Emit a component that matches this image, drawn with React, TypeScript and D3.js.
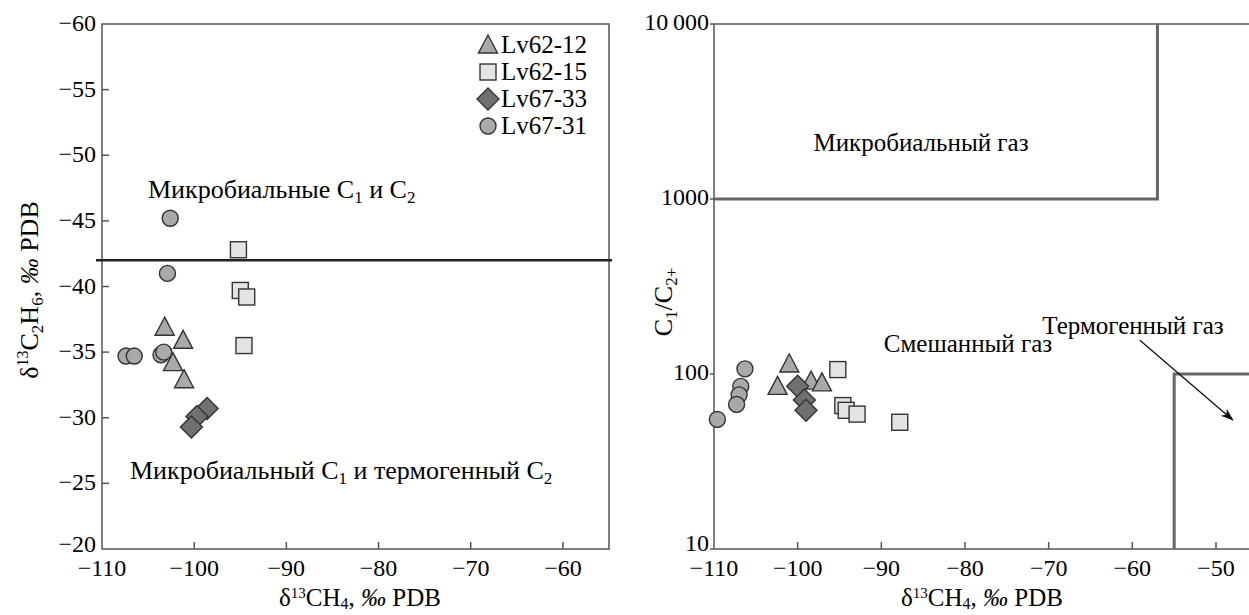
import * as d3 from 'd3';

// Left panel data: d13CH4 (x) vs d13C2H6 (y)
const lv6212L = [[-103.2, -36.9], [-101.2, -35.9], [-102.3, -34.2], [-101.1, -32.9]];
const lv6215L = [[-95.2, -42.8], [-95.0, -39.7], [-94.3, -39.2], [-94.6, -35.5]];
const lv6733L = [[-98.6, -30.7], [-99.7, -30.1], [-100.3, -29.3]];
const lv6731L = [[-102.6, -45.2], [-102.9, -41.0], [-107.4, -34.7], [-106.5, -34.7], [-103.6, -34.8], [-103.3, -35.0]];

// Right panel data: d13CH4 (x) vs C1/C2+ (y)
const lv6212R = [[-101.0, 114], [-102.4, 85], [-98.4, 91], [-97.1, 89]];
const lv6215R = [[-95.2, 106], [-94.6, 66], [-94.2, 62], [-92.9, 59], [-87.8, 53]];
const lv6733R = [[-100.0, 85], [-99.2, 71], [-99.0, 62]];
const lv6731R = [[-109.6, 55], [-106.3, 107], [-106.8, 85], [-107.0, 76], [-107.3, 67]];

const legendNames = ['Lv62-12', 'Lv62-15', 'Lv67-33', 'Lv67-31'];
const xTicks = [-110, -100, -90, -80, -70, -60];
const xTicksR = [-110, -100, -90, -80, -70, -60, -50];
const yTicksL = [-60, -55, -50, -45, -40, -35, -30, -25, -20];
const yTicksR = [10, 100, 1000, 10000];

const font = 'Liberation Serif, Times New Roman, serif';
const fs = 24; // tick labels, legend
const fa = 25; // annotations and titles
const axisColor = '#555';

const fmt = (v: number) => (v < 0 ? '\u2212' + Math.abs(v) : String(v));
const fmtLog = (v: number) => (v === 10000 ? '10\u2009000' : String(v));

type Kind = 'tri' | 'sq' | 'dia' | 'circ';
const kinds: Kind[] = ['tri', 'sq', 'dia', 'circ'];
const fills: Record<Kind, string> = { tri: '#a9a9a9', sq: '#e4e4e4', dia: '#707070', circ: '#a9a9a9' };

function Marker({ kind, x, y }: { kind: Kind; x: number; y: number }) {
  const common = { fill: fills[kind], stroke: '#333', strokeWidth: 1.4 };
  if (kind === 'tri') return <path d={`M${x},${y - 10}L${x + 9.5},${y + 8}L${x - 9.5},${y + 8}Z`} {...common} />;
  if (kind === 'sq') return <rect x={x - 8} y={y - 8} width={16} height={16} {...common} />;
  if (kind === 'dia') return <path d={`M${x},${y - 11}L${x + 11},${y}L${x},${y + 11}L${x - 11},${y}Z`} {...common} />;
  return <circle cx={x} cy={y} r={8} {...common} />;
}

// δ13CH4, ‰ PDB
function Ch4Title({ x, y }: { x: number; y: number }) {
  return (
    <text x={x} y={y} textAnchor="middle" fontFamily={font} fontSize={fa}>
      δ<tspan fontSize={15} dy={-8}>13</tspan><tspan dy={8}>CH</tspan><tspan fontSize={16} dy={3}>4</tspan><tspan dy={-3}>, </tspan><tspan fontStyle="italic">‰</tspan> PDB
    </text>
  );
}

export default function App() {
  // Left panel
  const xL = d3.scaleLinear().domain([-110, -55]).range([102, 609]);
  const yL = d3.scaleLinear().domain([-60, -20]).range([24, 549]);
  // Right panel
  const xR = d3.scaleLinear().domain([-110, -50]).range([714, 1216]);
  const yR = d3.scaleLog().domain([10, 10000]).range([549, 24]);

  const leftSets = [lv6212L, lv6215L, lv6733L, lv6731L];
  const rightSets = [lv6212R, lv6215R, lv6733R, lv6731R];

  const arrowFrom = [-59.1, 156];
  const arrowTo = [-48.0, 54.6];

  return (
    <svg width={1249} height={615} style={{ position: 'absolute', left: 0, top: 0, background: '#fff' }}>
      <defs>
        <marker id="arr" viewBox="0 0 10 10" refX={9} refY={5} markerWidth={10} markerHeight={10} orient="auto">
          <path d="M0,1.5L10,5L0,8.5L2.5,5Z" fill="#111" />
        </marker>
      </defs>

      {/* ---------- Left panel ---------- */}
      <rect x={xL(-110)} y={yL(-60)} width={xL(-55) - xL(-110)} height={yL(-20) - yL(-60)}
        fill="none" stroke={axisColor} strokeWidth={1.5} />
      {xTicks.map((t) => (
        <g key={'xl' + t}>
          {t > -110 && <line x1={xL(t)} x2={xL(t)} y1={yL(-20)} y2={yL(-20) - 7} stroke={axisColor} strokeWidth={1.5} />}
          <text x={xL(t)} y={576} textAnchor="middle" fontFamily={font} fontSize={fs}>{fmt(t)}</text>
        </g>
      ))}
      {yTicksL.map((t) => (
        <g key={'yl' + t}>
          {t > -60 && t < -20 && <line x1={xL(-110)} x2={xL(-110) + 7} y1={yL(t)} y2={yL(t)} stroke={axisColor} strokeWidth={1.5} />}
          <text x={xL(-110) - 6} y={yL(t) + (t === -20 ? 3 : 7)} textAnchor="end" fontFamily={font} fontSize={fs}>{fmt(t)}</text>
        </g>
      ))}
      <line x1={xL(-110) - 6} x2={xL(-55) + 3} y1={yL(-42)} y2={yL(-42)} stroke="#222" strokeWidth={2.5} />

      <text x={148} y={198} fontFamily={font} fontSize={26}>
        Микробиальные C<tspan fontSize={17} dy={5}>1</tspan><tspan dy={-5}> и C</tspan><tspan fontSize={17} dy={5}>2</tspan>
      </text>
      <text x={130} y={479} fontFamily={font} fontSize={26}>
        Микробиальный C<tspan fontSize={17} dy={5}>1</tspan><tspan dy={-5}> и термогенный C</tspan><tspan fontSize={17} dy={5}>2</tspan>
      </text>

      {leftSets.map((set, i) =>
        set.map((d, j) => <Marker key={`l${i}-${j}`} kind={kinds[i]} x={xL(d[0])} y={yL(d[1])} />)
      )}

      {legendNames.map((n, i) => (
        <g key={n}>
          <Marker kind={kinds[i]} x={488} y={45 + i * 27} />
          <text x={501} y={53 + i * 27} fontFamily={font} fontSize={25}>{n}</text>
        </g>
      ))}

      <text transform="translate(38,290) rotate(-90)" textAnchor="middle" fontFamily={font} fontSize={26}>
        δ<tspan fontSize={16} dy={-10}>13</tspan><tspan dy={10}>C</tspan><tspan fontSize={17} dy={5}>2</tspan><tspan dy={-5}>H</tspan><tspan fontSize={17} dy={5}>6</tspan><tspan dy={-5}>, </tspan><tspan fontStyle="italic">‰</tspan> PDB
      </text>
      <Ch4Title x={360} y={606} />

      {/* ---------- Right panel ---------- */}
      <line x1={xR(-110)} x2={1249} y1={yR(10000)} y2={yR(10000)} stroke={axisColor} strokeWidth={1.5} />
      <line x1={xR(-110)} x2={xR(-110)} y1={yR(10000)} y2={yR(10)} stroke={axisColor} strokeWidth={1.5} />
      <line x1={xR(-110)} x2={1249} y1={yR(10)} y2={yR(10)} stroke={axisColor} strokeWidth={1.5} />
      {xTicksR.map((t) => (
        <g key={'xr' + t}>
          {t > -110 && <line x1={xR(t)} x2={xR(t)} y1={yR(10)} y2={yR(10) - 7} stroke={axisColor} strokeWidth={1.5} />}
          <text x={xR(t)} y={576} textAnchor="middle" fontFamily={font} fontSize={fs}>{fmt(t)}</text>
        </g>
      ))}
      {yTicksR.map((t) => (
        <g key={'yr' + t}>
          <line x1={xR(-110) - 4} x2={xR(-110)} y1={yR(t)} y2={yR(t)} stroke={axisColor} strokeWidth={1.5} />
          <text x={xR(-110) - 5} y={yR(t) + (t === 10 ? 2 : 6)} textAnchor="end" fontFamily={font} fontSize={fs}>{fmtLog(t)}</text>
        </g>
      ))}

      {/* microbial gas box */}
      <path d={`M${xR(-110)},${yR(1000)}H${xR(-57)}V${yR(10000)}`} fill="none" stroke="#666" strokeWidth={3} />
      {/* thermogenic gas box */}
      <path d={`M${xR(-55)},${yR(10)}V${yR(100)}H1249`} fill="none" stroke="#666" strokeWidth={3} />

      <text x={921} y={151} textAnchor="middle" fontFamily={font} fontSize={25}>Микробиальный газ</text>
      <text x={1133} y={334} textAnchor="middle" fontFamily={font} fontSize={25}>Термогенный газ</text>
      <text x={968} y={352} textAnchor="middle" fontFamily={font} fontSize={25}>Смешанный газ</text>
      <line x1={xR(arrowFrom[0])} y1={yR(arrowFrom[1])} x2={xR(arrowTo[0])} y2={yR(arrowTo[1])}
        stroke="#111" strokeWidth={1.3} markerEnd="url(#arr)" />

      {rightSets.map((set, i) =>
        set.map((d, j) => <Marker key={`r${i}-${j}`} kind={kinds[i]} x={xR(d[0])} y={yR(d[1])} />)
      )}

      <text transform="translate(672,302) rotate(-90)" textAnchor="middle" fontFamily={font} fontSize={26}>
        C<tspan fontSize={17} dy={5}>1</tspan><tspan dy={-5}>/C</tspan><tspan fontSize={17} dy={5}>2+</tspan>
      </text>
      <Ch4Title x={982} y={606} />
    </svg>
  );
}
